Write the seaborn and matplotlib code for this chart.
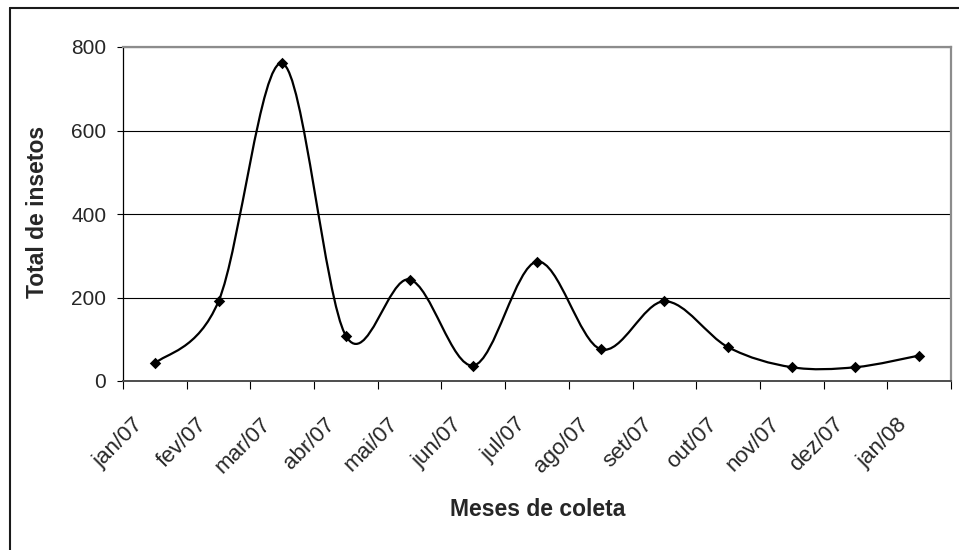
import numpy as np
import pandas as pd
import matplotlib.pyplot as plt
import seaborn as sns
from matplotlib.path import Path
from matplotlib.patches import PathPatch
from matplotlib.lines import Line2D

# Data
meses = ["jan/07", "fev/07", "mar/07", "abr/07", "mai/07", "jun/07", "jul/07",
         "ago/07", "set/07", "out/07", "nov/07", "dez/07", "jan/08"]
total_insetos = [42, 191, 761, 108, 243, 37, 286, 76, 191, 81, 33, 33, 61]

df = pd.DataFrame({"mes": meses, "total": total_insetos})
df["pos"] = np.arange(len(df))

sns.set_style("white")
plt.rcParams["font.family"] = ["Liberation Sans", "DejaVu Sans"]

fig = plt.figure(figsize=(9.59, 5.5), dpi=100)
ax = fig.add_axes([123 / 959, 1 - 381 / 550, 828 / 959, 334 / 550])

# Smoothed line (Excel-style), built as cubic Bezier segments in data space
x = df["pos"].to_numpy(dtype=float)
y = df["total"].to_numpy(dtype=float)
pts = np.column_stack([x, y])
verts = [pts[0]]
codes = [Path.MOVETO]
for i in range(len(pts) - 1):
    p0 = pts[i - 1] if i > 0 else pts[i]
    p1 = pts[i]
    p2 = pts[i + 1]
    p3 = pts[i + 2] if i + 2 < len(pts) else pts[i + 1]
    c1 = p1 + (p2 - p0) / 6
    c2 = p2 - (p3 - p1) / 6
    verts += [c1, c2, p2]
    codes += [Path.CURVE4] * 3
ax.add_patch(PathPatch(Path(verts, codes), fill=False, edgecolor="black",
                       lw=1.6, transform=ax.transData, zorder=3))

sns.scatterplot(data=df, x="pos", y="total", marker="D", s=34, color="black",
                edgecolor="black", linewidth=0, ax=ax, zorder=4, legend=False)

ax.set_xlim(-0.5, len(meses) - 0.5)
ax.set_ylim(0, 800)
ax.set_yticks([0, 200, 400, 600, 800])
ax.tick_params(axis="y", which="major", direction="out", length=4, width=0.8,
               color="black", pad=8, labelsize=15, left=True)

# category boundaries get the tick marks, labels sit near the category centres
ax.set_xticks(np.arange(len(meses) + 1) - 0.5)
ax.set_xticklabels([])
ax.tick_params(axis="x", which="major", direction="out", length=5.5, width=0.8,
               color="black", bottom=True)
ax.set_xticks(np.arange(len(meses)) - 0.23, minor=True)
ax.set_xticklabels(meses, minor=True, rotation=45, ha="right", va="center",
                   rotation_mode="anchor", fontsize=16)
ax.tick_params(axis="x", which="minor", length=0, pad=29)

ax.yaxis.grid(True, color="black", lw=0.8)
ax.xaxis.grid(False)
ax.set_axisbelow(True)
ax.set_xlabel("")
ax.set_ylabel("")

for side in ["top", "right"]:
    ax.spines[side].set_color("#8c8c8c")
    ax.spines[side].set_linewidth(1.6)
ax.spines["left"].set_color("black")
ax.spines["left"].set_linewidth(0.9)
ax.spines["bottom"].set_color("#4d4d4d")
ax.spines["bottom"].set_linewidth(1.4)

fig.text(538 / 959, 1 - 516 / 550, "Meses de coleta", fontsize=16.5,
         fontweight="bold", ha="center", va="baseline")
fig.text(43.5 / 959, 1 - 212 / 550, "Total de insetos", fontsize=16.5,
         fontweight="bold", ha="center", va="baseline", rotation=90,
         rotation_mode="anchor")

# chart-area border (only top and left edges visible in the original)
fig.add_artist(Line2D([10 / 959, 1], [1 - 7.5 / 550, 1 - 7.5 / 550],
                      transform=fig.transFigure, color="#1a1a1a", lw=1.5))
fig.add_artist(Line2D([10 / 959, 10 / 959], [0, 1 - 7.5 / 550],
                      transform=fig.transFigure, color="#1a1a1a", lw=1.5))

fig.savefig("out.png", dpi=100, facecolor="white")
